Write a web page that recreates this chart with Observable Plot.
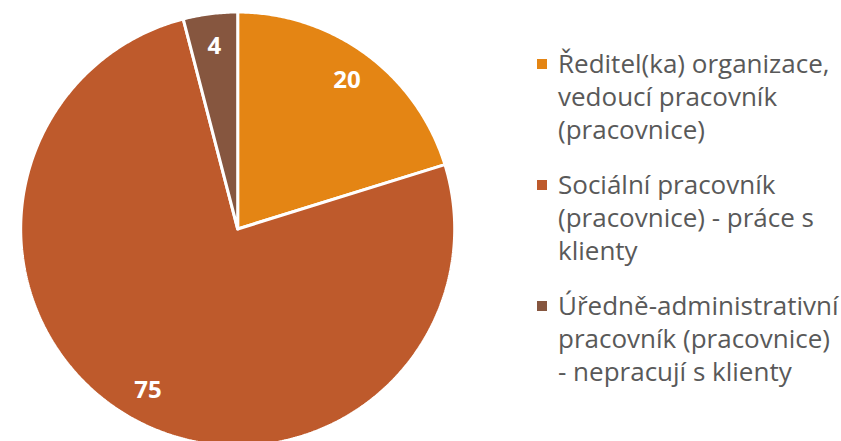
<!DOCTYPE html>
<html>
<head>
<meta charset="utf-8">
<script src="https://cdn.jsdelivr.net/npm/d3@7"></script>
<script src="https://cdn.jsdelivr.net/npm/@observablehq/plot@0.6"></script>
<style>
  html, body { margin: 0; padding: 0; background: #fff; }
  #wrap { position: relative; width: 841px; height: 441px; overflow: hidden; }
  #legend { position: absolute; left: 537px; top: 47px; font-family: "Open Sans", sans-serif; font-size: 26px; line-height: 33px; color: #595959; white-space: nowrap; }
  .item { display: flex; align-items: flex-start; margin-bottom: 22px; }
  .sw { width: 10px; height: 10px; margin-top: 12px; margin-right: 11px; flex: none; }
</style>
</head>
<body>
<div id="wrap"><div id="chart"></div><div id="legend"></div></div>
<script>
const categories = [
  "Ředitel(ka) organizace, vedoucí pracovník (pracovnice)",
  "Sociální pracovník (pracovnice) - práce s klienty",
  "Úředně-administrativní pracovník (pracovnice) - nepracují s klienty"
];
const legendLines = [
  ["Ředitel(ka) organizace,", "vedoucí pracovník", "(pracovnice)"],
  ["Sociální pracovník", "(pracovnice) - práce s", "klienty"],
  ["Úředně-administrativní", "pracovník (pracovnice)", "- nepracují s klienty"]
];
const values = [20, 75, 4];
const colors = ["#E48514", "#BE5A2C", "#86563F"];

// geometry derived from the values via d3.pie (clockwise from 12 o'clock)
const arcs = d3.pie().sort(null).value(d => d)(values);
const polys = [];
arcs.forEach((a, i) => {
  const n = Math.max(2, Math.ceil((a.endAngle - a.startAngle) / (Math.PI / 360)));
  polys.push({cat: categories[i], x: 0, y: 0});
  for (let j = 0; j <= n; j++) {
    const t = a.startAngle + (a.endAngle - a.startAngle) * j / n;
    polys.push({cat: categories[i], x: Math.sin(t), y: Math.cos(t)});
  }
  polys.push({cat: categories[i], x: 0, y: 0});
});
const labelR = 0.85;
const labels = arcs.map((a, i) => {
  const m = (a.startAngle + a.endAngle) / 2;
  return {cat: categories[i], v: values[i], x: labelR * Math.sin(m), y: labelR * Math.cos(m)};
});

const W = 841, H = 441, cx = 237.2, cy = 228.5, R = 217;
const chart = Plot.plot({
  width: W, height: H, margin: 0,
  x: {domain: [-cx / R, (W - cx) / R], range: [0, W], axis: null},
  y: {domain: [-(H - cy) / R, cy / R], range: [H, 0], axis: null},
  color: {domain: categories, range: colors},
  marks: [
    Plot.line(polys, {x: "x", y: "y", z: "cat", fill: "cat", stroke: "white", strokeWidth: 3, strokeLinejoin: "miter", curve: "linear"}),
    Plot.text(labels, {x: "x", y: "y", text: d => String(d.v), fill: "white", fontSize: 24, fontWeight: "bold", fontFamily: "Open Sans"})
  ]
});
document.getElementById("chart").appendChild(chart);

const leg = document.getElementById("legend");
legendLines.forEach((lines, i) => {
  const it = document.createElement("div"); it.className = "item";
  const sw = document.createElement("div"); sw.className = "sw"; sw.style.background = colors[i];
  const tx = document.createElement("div"); tx.innerHTML = lines.join("<br>");
  it.appendChild(sw); it.appendChild(tx); leg.appendChild(it);
});
</script>
</body>
</html>
